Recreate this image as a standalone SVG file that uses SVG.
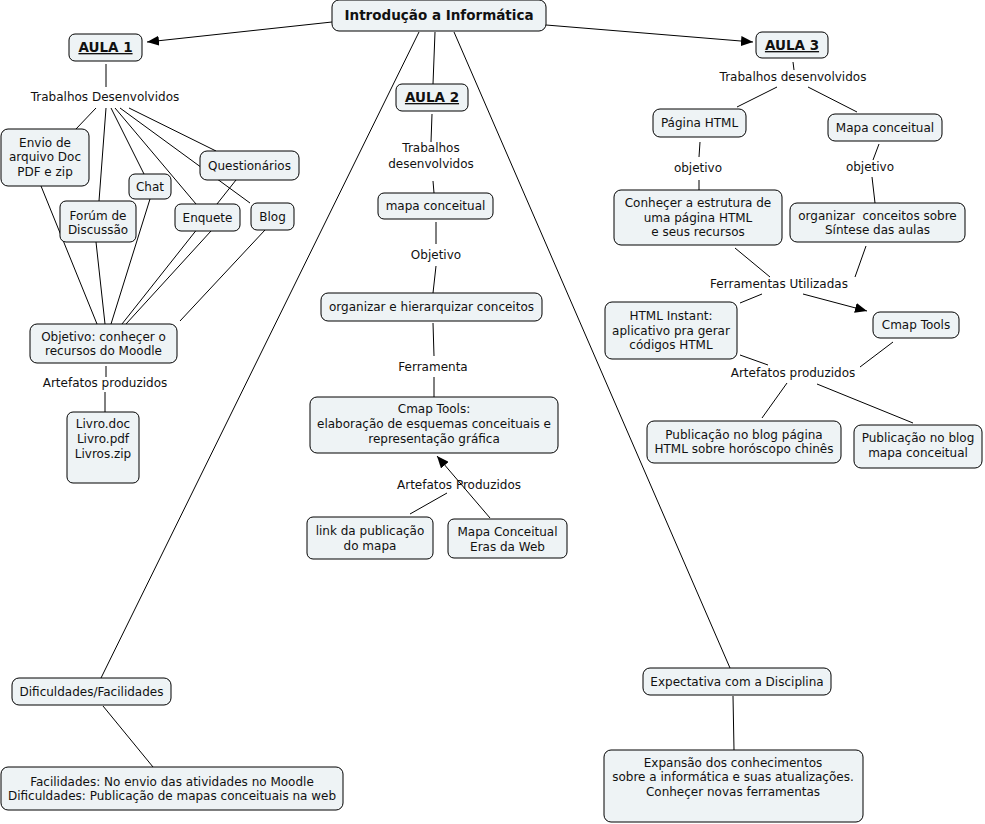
<svg xmlns="http://www.w3.org/2000/svg" width="985" height="824" viewBox="0 0 985 824">
<defs>
<marker id="arr" viewBox="0 0 12 10" refX="12" refY="5" markerWidth="12" markerHeight="10" markerUnits="userSpaceOnUse" orient="auto">
<path d="M0,0 L12,5 L0,10 z" fill="#000"/>
</marker>
<style>
rect{fill:#eef3f5;stroke:#000;stroke-width:1}
text{font-family:"DejaVu Sans",Verdana,sans-serif;font-size:12px;fill:#111;text-anchor:middle;white-space:pre}
.b{font-weight:bold;font-size:13.5px}
.u{text-decoration:underline}
#connectors line{stroke:#000;stroke-width:1}
</style>
</defs>
<rect x="0" y="0" width="985" height="824" style="fill:#fff;stroke:none"/>
<g id="connectors">
<line x1="332" y1="22" x2="147" y2="42" marker-end="url(#arr)"/>
<line x1="546" y1="25" x2="753" y2="42" marker-end="url(#arr)"/>
<line x1="435" y1="32" x2="433" y2="84"/>
<line x1="419" y1="32" x2="101" y2="678"/>
<line x1="454" y1="32" x2="730" y2="668"/>
<line x1="106" y1="64" x2="106" y2="87"/>
<line x1="96" y1="108" x2="76" y2="129"/>
<line x1="106" y1="108" x2="99" y2="201"/>
<line x1="111" y1="108" x2="144" y2="174"/>
<line x1="115" y1="108" x2="196" y2="204"/>
<line x1="120" y1="108" x2="250" y2="203"/>
<line x1="129" y1="108" x2="216" y2="151"/>
<line x1="41" y1="186" x2="97" y2="324"/>
<line x1="96" y1="242" x2="105" y2="324"/>
<line x1="150" y1="199" x2="111" y2="324"/>
<line x1="236" y1="180" x2="122" y2="324"/>
<line x1="211" y1="231" x2="126" y2="324"/>
<line x1="265" y1="230" x2="180" y2="321"/>
<line x1="106" y1="366" x2="106" y2="377"/>
<line x1="105" y1="392" x2="105" y2="412"/>
<line x1="432" y1="114" x2="431" y2="142"/>
<line x1="433" y1="181" x2="434" y2="193"/>
<line x1="436" y1="222" x2="436" y2="244"/>
<line x1="436" y1="266" x2="433" y2="293"/>
<line x1="433" y1="323" x2="434" y2="356"/>
<line x1="434" y1="377" x2="434" y2="397"/>
<line x1="490" y1="518" x2="437" y2="456" marker-end="url(#arr)"/>
<line x1="447" y1="493" x2="410" y2="514"/>
<line x1="793" y1="62" x2="794" y2="70"/>
<line x1="777" y1="87" x2="737" y2="107"/>
<line x1="808" y1="87" x2="857" y2="112"/>
<line x1="700" y1="142" x2="699" y2="157"/>
<line x1="699" y1="180" x2="699" y2="190"/>
<line x1="879" y1="144" x2="873" y2="160"/>
<line x1="872" y1="177" x2="875" y2="203"/>
<line x1="735" y1="248" x2="770" y2="277"/>
<line x1="866" y1="246" x2="855" y2="277"/>
<line x1="762" y1="294" x2="740" y2="303"/>
<line x1="803" y1="294" x2="867" y2="311" marker-end="url(#arr)"/>
<line x1="740" y1="355" x2="768" y2="365"/>
<line x1="893" y1="342" x2="860" y2="367"/>
<line x1="787" y1="383" x2="762" y2="418"/>
<line x1="817" y1="384" x2="913" y2="423"/>
<line x1="103" y1="706" x2="153" y2="767"/>
<line x1="733" y1="696" x2="734" y2="750"/>
</g>
<g id="labels">
<text x="105" y="101">Trabalhos Desenvolvidos</text>
<text x="105" y="387">Artefatos produzidos</text>
<text x="431" y="152">Trabalhos</text>
<text x="431" y="168">desenvolvidos</text>
<text x="436" y="259">Objetivo</text>
<text x="433" y="371">Ferramenta</text>
<text x="459" y="489">Artefatos Produzidos</text>
<text x="793" y="81">Trabalhos desenvolvidos</text>
<text x="698" y="172">objetivo</text>
<text x="870" y="171">objetivo</text>
<text x="779" y="288">Ferramentas Utilizadas</text>
<text x="793" y="377">Artefatos produzidos</text>
</g>
<g id="root"><rect x="332" y="0" width="214" height="31" rx="7"/><text class="b" x="439" y="20">Introdução a Informática</text></g>
<g id="aula1"><rect x="69" y="34" width="73" height="27" rx="6"/><text class="b u" x="105.5" y="52">AULA 1</text></g>
<g id="aula2"><rect x="396" y="84" width="72" height="27" rx="6"/><text class="b u" x="432" y="102">AULA 2</text></g>
<g id="aula3"><rect x="756" y="32" width="72" height="26" rx="6"/><text class="b u" x="792" y="50">AULA 3</text></g>
<g id="envio"><rect x="1" y="129" width="88" height="57" rx="7"/><text x="45" y="147">Envio de</text><text x="45" y="161">arquivo Doc</text><text x="45" y="176">PDF e zip</text></g>
<g id="chat"><rect x="129" y="174" width="42" height="25" rx="6"/><text x="150" y="191">Chat</text></g>
<g id="forum"><rect x="60" y="201" width="76" height="41" rx="6"/><text x="98" y="220">Forúm de</text><text x="98" y="234">Discussão</text></g>
<g id="quest"><rect x="200" y="151" width="99" height="29" rx="7"/><text x="249.5" y="170">Questionários</text></g>
<g id="enquete"><rect x="175" y="204" width="65" height="27" rx="6"/><text x="207.5" y="222">Enquete</text></g>
<g id="blog"><rect x="251" y="203" width="43" height="27" rx="6"/><text x="272.5" y="221">Blog</text></g>
<g id="objetivo1"><rect x="30" y="324" width="147" height="39" rx="7"/><text x="103.5" y="341">Objetivo: conheçer o</text><text x="103.5" y="355">recursos do Moodle</text></g>
<g id="livro"><rect x="67" y="412" width="72" height="71" rx="6"/><text x="103" y="428">Livro.doc</text><text x="103" y="443">Livro.pdf</text><text x="103" y="458">Livros.zip</text></g>
<g id="mapa2"><rect x="378" y="193" width="115" height="26" rx="6"/><text x="435.5" y="210">mapa conceitual</text></g>
<g id="org2"><rect x="321" y="293" width="221" height="28" rx="7"/><text x="431.5" y="311">organizar e hierarquizar conceitos</text></g>
<g id="cmap2"><rect x="310" y="397" width="248" height="56" rx="7"/><text x="434" y="413">Cmap Tools:</text><text x="434" y="428">elaboração de esquemas conceituais e</text><text x="434" y="443">representação gráfica</text></g>
<g id="link"><rect x="307" y="517" width="126" height="42" rx="6"/><text x="370" y="535">link da publicação</text><text x="370" y="550">do mapa</text></g>
<g id="eras"><rect x="448" y="519" width="119" height="39" rx="6"/><text x="507.5" y="536">Mapa Conceitual</text><text x="507.5" y="551">Eras da Web</text></g>
<g id="pagina"><rect x="653" y="109" width="93" height="28" rx="7"/><text x="699.5" y="127">Página HTML</text></g>
<g id="mapa3"><rect x="828" y="114" width="114" height="27" rx="7"/><text x="885" y="132">Mapa conceitual</text></g>
<g id="conhecer"><rect x="614" y="190" width="168" height="55" rx="7"/><text x="698" y="207">Conheçer a estrutura de</text><text x="698" y="222">uma página HTML</text><text x="698" y="236">e seus recursos</text></g>
<g id="org3"><rect x="790" y="203" width="175" height="39" rx="7"/><text x="877.5" y="220">organizar  conceitos sobre</text><text x="877.5" y="234">Síntese das aulas</text></g>
<g id="html"><rect x="605" y="302" width="132" height="57" rx="7"/><text x="671" y="320">HTML Instant:</text><text x="671" y="335">aplicativo pra gerar</text><text x="671" y="349">códigos HTML</text></g>
<g id="cmap3"><rect x="873" y="312" width="86" height="26" rx="7"/><text x="916" y="329">Cmap Tools</text></g>
<g id="pub1"><rect x="647" y="421" width="194" height="42" rx="7"/><text x="744" y="439">Publicação no blog página</text><text x="744" y="453">HTML sobre horóscopo chinês</text></g>
<g id="pub2"><rect x="854" y="425" width="128" height="43" rx="7"/><text x="918" y="442">Publicação no blog</text><text x="918" y="457">mapa conceitual</text></g>
<g id="dif"><rect x="12" y="678" width="159" height="27" rx="7"/><text x="91.5" y="696">Dificuldades/Facilidades</text></g>
<g id="fac"><rect x="1" y="767" width="342" height="43" rx="7"/><text x="172" y="786">Facilidades: No envio das atividades no Moodle</text><text x="172" y="800">Dificuldades: Publicação de mapas conceituais na web</text></g>
<g id="exp"><rect x="643" y="668" width="188" height="27" rx="7"/><text x="737" y="686">Expectativa com a Disciplina</text></g>
<g id="expansao"><rect x="604" y="750" width="259" height="72" rx="7"/><text x="733" y="767">Expansão dos conhecimentos</text><text x="733" y="781">sobre a informática e suas atualizações.</text><text x="733" y="796">Conheçer novas ferramentas</text></g>
</svg>
